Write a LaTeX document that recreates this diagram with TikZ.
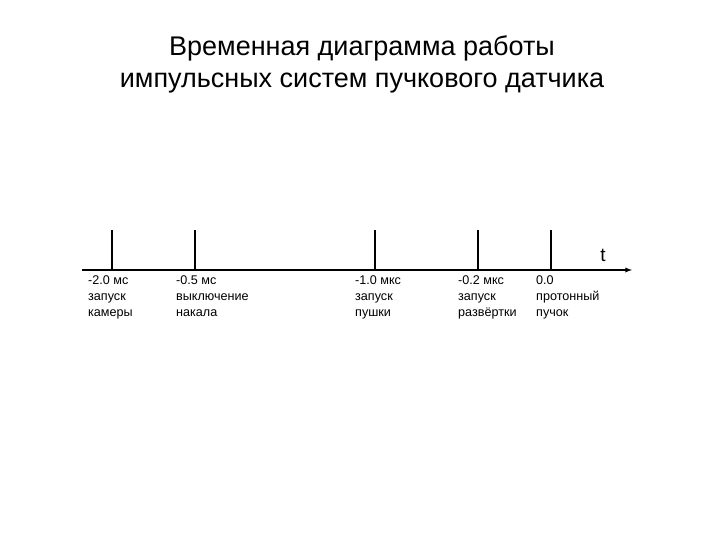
\documentclass[tikz,border=0pt]{standalone}
\usepackage{fontspec}
\setmainfont{Liberation Sans}
\begin{document}
\begin{tikzpicture}[x=1pt,y=-1pt,
  tick/.style={line width=1.3pt},
  lab/.style={anchor=north west,align=left,font=\fontsize{12.6}{16}\selectfont,inner sep=0pt}]
\useasboundingbox (0,0) rectangle (720,540);
\node[align=center,font=\fontsize{27}{32}\selectfont] (title) at (362,64) {Временная диаграмма работы\\ импульсных систем пучкового датчика};
\coordinate (s) at (82,270);
\coordinate (e) at (632,270);
\draw[line width=1.3pt,-latex] (s) -- (e);
\node[font=\fontsize{19}{20}\selectfont] (t) at (603,255) {t};
\foreach \x/\n in {112/a,195/b,375/c,478/d,551/e}{
  \coordinate (\n top) at (\x,230);
  \coordinate (\n bot) at (\x,270);
  \draw[tick] (\n top) -- (\n bot);
}
\node[lab] (la) at (88,276) {-2.0 мс\\запуск\\камеры};
\node[lab] (lb) at (176,276) {-0.5 мс\\выключение\\накала};
\node[lab] (lc) at (355,276) {-1.0 мкс\\запуск\\пушки};
\node[lab] (ld) at (458,276) {-0.2 мкс\\запуск\\развёртки};
\node[lab] (le) at (536,276) {0.0\\протонный\\пучок};
\end{tikzpicture}
\end{document}
